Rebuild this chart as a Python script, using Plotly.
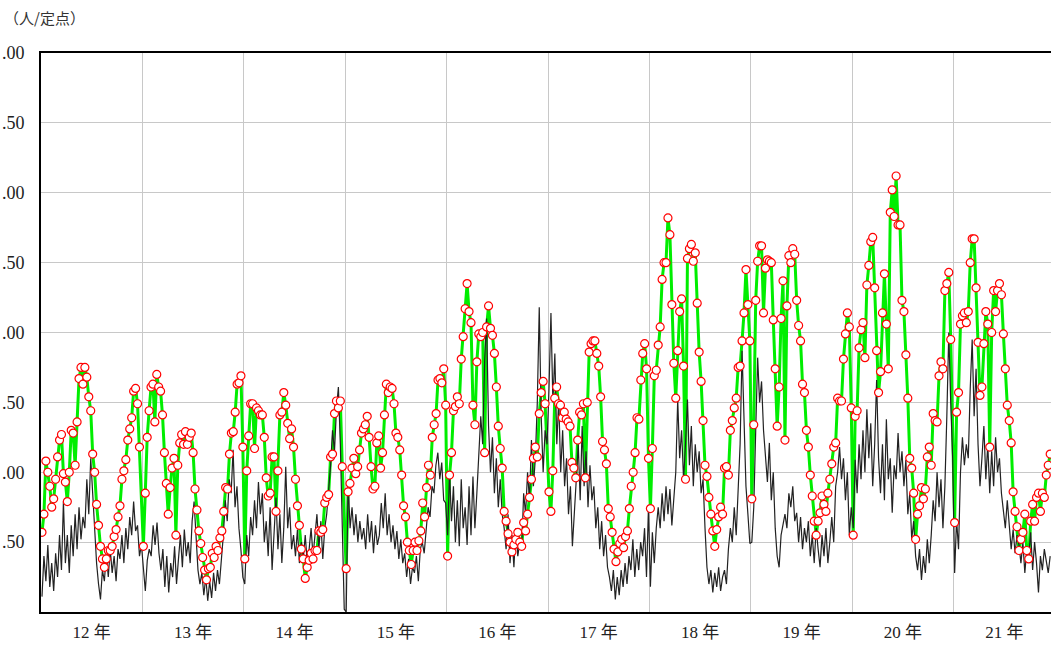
import plotly.graph_objects as go

years = [12, 13, 14, 15, 16, 17, 18, 19, 20, 21]
year_labels = ["12 年", "13 年", "14 年", "15 年", "16 年", "17 年", "18 年", "19 年", "20 年", "21 年"]
y_tick_values = [0.5, 1.0, 1.5, 2.0, 2.5, 3.0, 3.5, 4.0]
y_tick_labels = [".50", ".00", ".50", ".00", ".50", ".00", ".50", ".00"]
unit_label = "（人/定点）"

# green series with red markers (weekly values per year)
green_12 = [0.57, 0.70, 1.08, 1.00, 0.90, 0.75, 0.81, 0.95, 1.11, 1.23, 1.27, 0.99, 0.93, 0.79, 1.00, 1.30, 1.28,
            1.05, 1.36, 1.67, 1.75, 1.63, 1.75, 1.68, 1.54, 1.44, 1.13, 1.00, 0.77, 0.62, 0.47, 0.38, 0.32, 0.38,
            0.44, 0.44, 0.47, 0.54, 0.59, 0.68, 0.76, 0.95, 1.01, 1.09, 1.23, 1.31, 1.39, 1.58, 1.60, 1.49, 1.18]
green_13 = [0.47, 0.85, 1.25, 1.44, 1.61, 1.63, 1.36, 1.70, 1.61, 1.58, 1.41, 1.14, 0.92, 0.70, 0.89, 1.03, 1.10,
            0.55, 1.05, 1.21, 1.27, 1.20, 1.29, 1.20, 1.25, 1.28, 1.14, 0.88, 0.73, 0.58, 0.49, 0.39, 0.30, 0.23,
            0.31, 0.32, 0.42, 0.39, 0.47, 0.44, 0.53, 0.58, 0.72, 0.89, 0.88, 1.13, 1.28, 1.29, 1.43, 1.63, 1.64,
            1.69, 1.18]
green_14 = [0.38, 1.01, 1.26, 1.49, 1.49, 1.17, 1.46, 1.44, 1.41, 1.41, 1.25, 0.96, 0.83, 0.85, 1.11, 1.11, 0.72,
            1.01, 1.41, 1.43, 1.57, 1.48, 1.35, 1.24, 1.31, 1.18, 0.95, 0.76, 0.62, 0.45, 0.38, 0.24, 0.32, 0.37,
            0.42, 0.38, 0.44, 0.44, 0.58, 0.57, 0.59, 0.78, 0.82, 0.84, 1.11, 1.13, 1.42, 1.51, 1.46, 1.51, 1.04]
green_15 = [0.31, 0.86, 0.92, 1.03, 1.10, 0.99, 1.04, 1.16, 1.28, 1.31, 1.34, 1.40, 1.25, 1.04, 0.88, 0.90, 1.21,
            1.26, 1.03, 1.14, 1.41, 1.63, 1.57, 1.61, 1.60, 1.49, 1.28, 1.25, 1.16, 0.98, 0.76, 0.68, 0.50, 0.44,
            0.34, 0.44, 0.50, 0.44, 0.51, 0.58, 0.78, 0.68, 0.89, 1.05, 0.98, 1.25, 1.34, 1.42, 1.66, 1.67, 1.64,
            1.74, 1.48]
green_16 = [0.40, 0.98, 1.14, 1.44, 1.47, 1.54, 1.49, 1.81, 1.97, 2.17, 2.35, 2.15, 2.07, 1.48, 1.34, 1.79, 1.99,
            1.97, 2.00, 1.14, 2.04, 2.19, 2.03, 1.98, 1.85, 1.61, 1.33, 1.17, 1.03, 0.72, 0.65, 0.56, 0.50, 0.43,
            0.48, 0.52, 0.57, 0.50, 0.47, 0.64, 0.58, 0.70, 0.82, 0.95, 1.10, 1.18, 1.11, 1.42, 1.57, 1.65, 1.49]
green_17 = [0.86, 0.72, 1.01, 1.53, 1.61, 1.49, 1.48, 1.39, 1.43, 1.38, 1.36, 1.33, 1.07, 1.03, 0.96, 1.23, 1.43,
            1.41, 1.49, 0.96, 1.50, 1.86, 1.92, 1.94, 1.94, 1.85, 1.76, 1.54, 1.22, 1.16, 1.06, 0.74, 0.68, 0.57,
            0.45, 0.36, 0.43, 0.49, 0.52, 0.46, 0.54, 0.58, 0.74, 0.90, 1.00, 1.14, 1.39, 1.38, 1.66, 1.85, 1.92,
            1.74, 1.10]
green_18 = [0.74, 1.17, 1.69, 1.73, 1.91, 2.04, 2.38, 2.50, 2.50, 2.82, 2.70, 2.20, 1.78, 1.53, 1.87, 2.15, 2.24,
            1.76, 0.95, 2.53, 2.60, 2.63, 2.51, 2.57, 2.21, 1.86, 1.65, 1.37, 1.05, 0.97, 0.82, 0.70, 0.58, 0.47,
            0.59, 0.68, 0.75, 0.70, 1.03, 1.04, 0.98, 1.30, 1.37, 1.46, 1.53, 1.75, 1.76, 1.94, 2.14, 2.45, 2.20,
            1.94]
green_19 = [0.81, 1.34, 2.23, 2.51, 2.62, 2.62, 2.14, 2.46, 2.52, 2.51, 2.50, 2.09, 1.74, 1.33, 1.61, 2.10, 2.37,
            1.23, 2.19, 2.55, 2.50, 2.60, 2.56, 2.23, 2.05, 1.94, 1.63, 1.57, 1.30, 1.18, 0.98, 0.83, 0.65, 0.55,
            0.65, 0.71, 0.83, 0.77, 0.72, 0.85, 0.95, 1.06, 1.18, 1.21, 1.53, 1.51, 1.51, 1.81, 1.99, 2.14, 2.04,
            1.46]
green_20 = [0.55, 1.40, 1.44, 1.89, 2.02, 2.07, 1.82, 2.34, 2.48, 2.65, 2.68, 2.32, 1.87, 1.57, 1.72, 2.14, 2.42,
            2.06, 1.74, 2.86, 3.02, 2.83, 3.12, 2.77, 2.77, 2.23, 2.15, 1.84, 1.53, 1.10, 1.03, 0.85, 0.52, 0.70,
            0.76, 0.89, 0.81, 0.88, 1.11, 1.18, 1.05, 1.42, 1.37, 1.36, 1.69, 1.79, 1.74, 2.30, 2.35, 2.43, 1.95]
green_21 = [0.64, 1.43, 1.57, 2.06, 2.12, 2.14, 2.07, 2.15, 2.50, 2.67, 2.67, 2.32, 1.93, 1.55, 1.61, 1.92, 2.15,
            2.06, 1.18, 2.00, 2.30, 2.15, 2.30, 2.35, 2.27, 1.99, 1.74, 1.48, 1.37, 1.21, 0.86, 0.72, 0.61, 0.44,
            0.52, 0.57, 0.70, 0.44, 0.38, 0.65, 0.77, 0.65, 0.82, 0.85, 0.72, 0.85, 0.82, 0.98, 1.05, 1.13]

# black comparison series (weekly values per year)
black_12 = [0.11, 0.40, 0.22, 0.48, 0.18, 0.35, 0.15, 0.42, 0.25, 0.55, 0.30, 0.79, 0.35, 0.55, 0.28, 0.62, 0.40,
            0.70, 0.45, 0.75, 0.52, 0.68, 0.60, 0.95, 0.70, 1.10, 0.85, 0.55, 0.35, 0.20, 0.09, 0.30, 0.22, 0.42,
            0.25, 0.45, 0.28, 0.40, 0.22, 0.45, 0.38, 0.55, 0.35, 0.60, 0.45, 0.68, 0.55, 0.79, 0.58, 0.62, 0.40,
            0.48]
black_13 = [0.30, 0.15, 0.37, 0.45, 0.40, 0.62, 0.48, 0.64, 0.42, 0.30, 0.45, 0.18, 0.40, 0.14, 0.35, 0.25, 0.47,
            0.20, 0.38, 0.55, 0.32, 0.59, 0.40, 0.50, 0.35, 0.65, 0.79, 0.50, 0.30, 0.20, 0.28, 0.12, 0.25, 0.08,
            0.22, 0.10, 0.28, 0.15, 0.30, 0.20, 0.35, 0.55, 0.80, 0.65, 0.95, 0.85, 1.16, 0.75, 0.90, 0.60, 0.45,
            0.25]
black_14 = [0.20, 0.55, 0.40, 0.68, 0.55, 0.80, 0.60, 0.93, 0.70, 0.85, 0.50, 0.65, 0.40, 0.75, 0.30, 0.60, 0.82,
            0.45, 0.70, 0.35, 0.60, 1.04, 0.60, 0.75, 0.45, 0.55, 0.40, 0.59, 0.35, 0.50, 0.38, 0.55, 0.36, 0.45,
            0.60, 0.40, 0.55, 0.70, 0.45, 0.65, 0.38, 0.60, 0.70, 0.85, 1.05, 1.30, 1.15, 1.45, 1.61, 1.20, 0.60,
            0.02]
black_15 = [0.00, 0.93, 0.60, 0.75, 0.55, 0.70, 0.50, 0.65, 0.52, 0.60, 0.45, 0.70, 0.50, 0.65, 0.42, 0.62, 0.48,
            0.55, 0.78, 0.60, 0.85, 0.55, 0.70, 0.50, 0.62, 0.45, 0.58, 0.38, 0.52, 0.35, 0.42, 0.25, 0.38, 0.20,
            0.32, 0.28, 0.40, 0.22, 0.45, 0.50, 0.42, 0.60, 0.75, 0.68, 0.90, 0.85, 1.05, 1.14, 0.95, 1.07, 0.80,
            0.78]
black_16 = [0.55, 1.00, 0.65, 0.90, 0.50, 0.80, 0.47, 0.95, 0.60, 0.75, 0.48, 0.90, 0.55, 0.97, 0.60, 0.85, 1.10,
            1.40, 1.20, 1.80, 2.10, 1.33, 1.00, 1.25, 0.85, 1.10, 0.75, 0.95, 0.70, 0.60, 0.45, 0.70, 0.35, 0.55,
            0.32, 0.60, 0.40, 0.50, 0.45, 0.85, 0.70, 1.00, 0.80, 1.23, 0.90, 1.10, 1.50, 2.18, 1.40, 1.00, 1.30,
            1.20]
black_17 = [1.60, 2.14, 1.50, 1.85, 1.20, 1.52, 1.00, 1.30, 0.90, 1.10, 0.70, 0.90, 0.47, 0.75, 0.95, 1.20, 0.80,
            1.33, 0.90, 1.15, 0.75, 1.05, 0.80, 0.90, 0.60, 0.75, 0.45, 0.65, 0.40, 0.55, 0.32, 0.25, 0.15, 0.30,
            0.09, 0.25, 0.12, 0.30, 0.18, 0.35, 0.20, 0.40, 0.30, 0.52, 0.25, 0.45, 0.30, 0.50, 0.40, 0.60, 0.25,
            0.75]
black_18 = [0.18, 0.57, 0.35, 0.60, 0.75, 0.60, 0.85, 0.65, 0.90, 0.70, 0.88, 0.62, 0.80, 1.00, 1.52, 1.10, 1.30,
            0.95, 1.20, 1.52, 1.05, 1.33, 0.90, 1.20, 1.00, 1.15, 0.85, 0.95, 0.60, 0.32, 0.20, 0.30, 0.14, 0.28,
            0.18, 0.32, 0.15, 0.25, 0.30, 0.20, 0.45, 0.60, 0.50, 0.75, 0.55, 0.85, 1.20, 1.87, 1.30, 0.90, 0.70,
            0.49]
black_19 = [0.50, 0.75, 1.30, 1.82, 1.50, 1.65, 1.30, 1.10, 0.93, 1.21, 0.80, 1.00, 0.60, 0.40, 0.32, 0.55, 0.64,
            0.70, 0.60, 0.85, 0.75, 0.90, 0.65, 0.71, 0.50, 0.68, 0.45, 0.60, 0.50, 0.65, 0.40, 0.55, 0.35, 0.60,
            0.45, 0.32, 0.55, 0.40, 0.60, 0.35, 0.50, 0.68, 0.50, 0.90, 1.00, 1.18, 0.95, 1.10, 0.80, 1.00, 0.55,
            0.75]
black_20 = [0.60, 1.09, 0.85, 1.20, 0.95, 1.30, 1.00, 1.45, 1.10, 1.35, 0.90, 1.20, 1.66, 1.10, 0.85, 1.20, 0.80,
            1.38, 0.95, 1.10, 0.71, 1.05, 0.95, 1.28, 1.00, 1.15, 0.90, 1.09, 0.70, 0.85, 0.52, 0.65, 0.40, 0.30,
            0.45, 0.23, 0.40, 0.28, 0.52, 0.35, 0.55, 0.80, 0.65, 1.00, 0.75, 0.95, 0.60, 0.90, 1.40, 2.00, 1.50,
            1.10]
black_21 = [0.28, 0.66, 0.45, 1.00, 1.25, 1.05, 1.20, 1.10, 1.60, 1.95, 1.40, 1.74, 1.20, 0.90, 1.10, 1.33, 0.95,
            1.20, 0.85, 1.15, 0.90, 1.25, 1.00, 1.10, 0.85, 0.70, 0.60, 0.80, 0.60, 0.45, 0.59, 0.42, 0.55, 0.48,
            0.35, 0.50, 0.28, 0.45, 0.40, 0.57, 0.30, 0.50, 0.35, 0.14, 0.40, 0.30, 0.45, 0.35, 0.28, 0.40]

green_by_year = [green_12, green_13, green_14, green_15, green_16, green_17, green_18, green_19, green_20, green_21]
black_by_year = [black_12, black_13, black_14, black_15, black_16, black_17, black_18, black_19, black_20, black_21]


def to_xy(year_lists):
    xs, ys = [], []
    for yr, vals in zip(years, year_lists):
        n = max(len(vals), 52)
        for i, v in enumerate(vals):
            xs.append(yr + (i + 0.5) / n)
            ys.append(v)
    return xs, ys


gx, gy = to_xy(green_by_year)
bx, by = to_xy(black_by_year)

fig = go.Figure()
fig.add_trace(go.Scatter(x=gx, y=gy, mode="lines", line=dict(color="#00ee00", width=3),
                         hoverinfo="skip", showlegend=False))
fig.add_trace(go.Scatter(x=bx, y=by, mode="lines", line=dict(color="#222222", width=1.2),
                         showlegend=False))
fig.add_trace(go.Scatter(x=gx, y=gy, mode="markers",
                         marker=dict(symbol="circle", size=8, color="white",
                                     line=dict(color="#ff0000", width=1.2)),
                         showlegend=False))

fig.update_layout(
    width=1051, height=648,
    margin=dict(l=41, r=0, t=53, b=36, autoexpand=False),
    paper_bgcolor="white", plot_bgcolor="white",
    showlegend=False,
    annotations=[dict(text=unit_label, xref="paper", yref="paper", x=-39 / 1010, y=1 + 35 / 559,
                      xanchor="left", yanchor="middle", showarrow=False,
                      font=dict(family="Noto Sans CJK JP", size=15, color="#333333"))],
)
fig.update_xaxes(
    range=[12, 21.96], tickmode="array",
    tickvals=[y + 0.5 for y in years], ticktext=year_labels,
    showgrid=False, ticks="", zeroline=False,
    showline=True, linecolor="black", linewidth=2, mirror=True,
    ticklabelstandoff=4,
    tickfont=dict(family="Liberation Serif, Noto Sans CJK JP", size=17, color="#222222"),
    minor=dict(tickmode="array", tickvals=years[1:], showgrid=True, gridcolor="#c8c8c8", gridwidth=1, ticks=""),
)
fig.update_yaxes(
    range=[0, 4.0], tickmode="array", tickvals=y_tick_values, ticktext=y_tick_labels,
    showgrid=True, gridcolor="#c8c8c8", gridwidth=1, zeroline=False, ticks="",
    showline=True, linecolor="black", linewidth=2,
    ticklabelstandoff=11,
    tickfont=dict(family="Liberation Serif", size=18, color="#222222"),
)

fig.write_html("out.html", config={"displayModeBar": False},
               post_script="document.body.style.margin='0px';")
